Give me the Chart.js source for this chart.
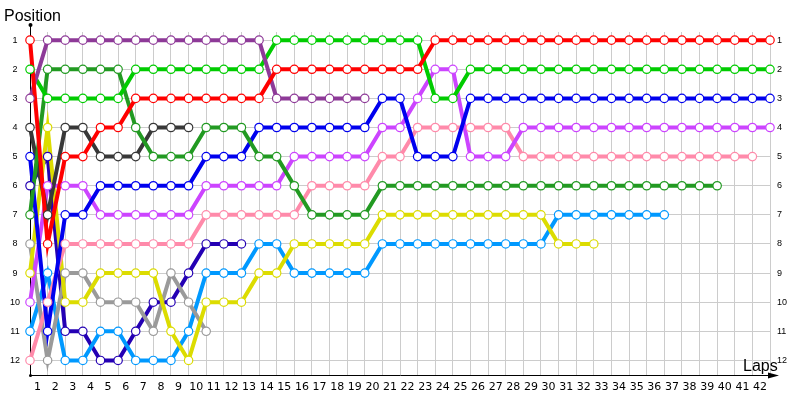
<!DOCTYPE html>
<html>
<head>
<meta charset="utf-8">
<script src="https://cdn.jsdelivr.net/npm/chart.js@4"></script>
<style>
  html, body { margin: 0; padding: 0; background: #fff; }
  #wrap { width: 800px; height: 400px; }
</style>
</head>
<body>
<div id="wrap"><canvas id="grafica"></canvas></div>
<script>
// ===== Datos =====
const vueltas = [0,1,2,3,4,5,6,7,8,9,10,11,12,13,14,15,16,17,18,19,20,21,22,23,24,25,26,27,28,29,30,31,32,33,34,35,36,37,38,39,40,41,42];
const posiciones = [1,2,3,4,5,6,7,8,9,10,11,12];

// posicion en cada vuelta (indice = vuelta, empieza en 0)
const rojo     = [1,8,5,5,4,4,3,3,3,3,3,3,3,3,2,2,2,2,2,2,2,2,2,1,1,1,1,1,1,1,1,1,1,1,1,1,1,1,1,1,1,1,1];
const morado   = [3,1,1,1,1,1,1,1,1,1,1,1,1,1,3,3,3,3,3,3];
const verde    = [2,3,3,3,3,3,2,2,2,2,2,2,2,2,1,1,1,1,1,1,1,1,1,3,3,2,2,2,2,2,2,2,2,2,2,2,2,2,2,2,2,2,2];
const verdeOsc = [7,2,2,2,2,2,4,5,5,5,4,4,4,5,5,6,7,7,7,7,6,6,6,6,6,6,6,6,6,6,6,6,6,6,6,6,6,6,6,6];
const azul     = [5,11,7,7,6,6,6,6,6,6,5,5,5,4,4,4,4,4,4,4,3,3,5,5,5,3,3,3,3,3,3,3,3,3,3,3,3,3,3,3,3,3,3];
const grisOsc  = [4,7,4,4,5,5,5,4,4,4];
const violeta  = [10,6,6,6,7,7,7,7,7,7,6,6,6,6,6,5,5,5,5,5,4,4,3,2,2,5,5,5,4,4,4,4,4,4,4,4,4,4,4,4,4,4,4];
const rosa     = [12,10,8,8,8,8,8,8,8,8,7,7,7,7,7,7,6,6,6,6,5,5,4,4,4,4,4,4,5,5,5,5,5,5,5,5,5,5,5,5,5,5];
const amarillo = [9,4,10,10,9,9,9,9,11,12,10,10,10,9,9,8,8,8,8,8,7,7,7,7,7,7,7,7,7,7,8,8,8];
const gris     = [8,12,9,9,10,10,10,11,9,10,11];
const celeste  = [11,9,12,12,11,11,12,12,12,11,9,9,9,8,8,9,9,9,9,9,8,8,8,8,8,8,8,8,8,8,7,7,7,7,7,7,7];
const indigo   = [6,5,11,11,12,12,11,10,10,9,8,8,8];

const series = [
  { nombre: "rojo",     datos: rojo,     color: "#ff0000" },
  { nombre: "morado",   datos: morado,   color: "#8e3a98" },
  { nombre: "verde",    datos: verde,    color: "#00cc00" },
  { nombre: "verdeOsc", datos: verdeOsc, color: "#229a22" },
  { nombre: "azul",     datos: azul,     color: "#0000ee" },
  { nombre: "grisOsc",  datos: grisOsc,  color: "#383838" },
  { nombre: "violeta",  datos: violeta,  color: "#cc44ff" },
  { nombre: "rosa",     datos: rosa,     color: "#ff8aaa" },
  { nombre: "amarillo", datos: amarillo, color: "#dcdc00" },
  { nombre: "gris",     datos: gris,     color: "#9a9a9a" },
  { nombre: "celeste",  datos: celeste,  color: "#0099ff" },
  { nombre: "indigo",   datos: indigo,   color: "#2400b4" }
];

function puntos(arr) {
  return arr.map((p, i) => ({ x: vueltas[i], y: p }));
}

// lineas primero, circulos encima
const lineas = series.map(s => ({
  label: s.nombre,
  data: puntos(s.datos),
  borderColor: s.color,
  borderWidth: 4,
  pointRadius: 0,
  tension: 0,
  fill: false,
  clip: false,
  order: 1
}));
const circulos = series.map(s => ({
  label: s.nombre + "-pts",
  data: puntos(s.datos),
  showLine: false,
  pointRadius: 4.2,
  pointBorderWidth: 1.2,
  pointBorderColor: s.color,
  pointBackgroundColor: "#ffffff",
  clip: false,
  order: 0
}));

// ===== Ejes y textos =====
const decoracion = {
  id: "decoracion",
  afterDraw(chart) {
    const ctx = chart.ctx;
    const a = chart.chartArea;
    ctx.save();
    ctx.strokeStyle = "#000";
    ctx.fillStyle = "#000";
    ctx.lineWidth = 1;
    ctx.beginPath();
    ctx.moveTo(a.left + 0.5, a.top);
    ctx.lineTo(a.left + 0.5, 25);
    ctx.stroke();
    ctx.beginPath();
    ctx.arc(a.left + 0.5, 25, 2, 0, Math.PI * 2);
    ctx.fill();
    ctx.beginPath();
    ctx.arc(a.left + 0.5, a.bottom + 0.5, 1.5, 0, Math.PI * 2);
    ctx.fill();
    ctx.beginPath();
    ctx.moveTo(a.right, a.bottom + 0.5);
    ctx.lineTo(776, a.bottom + 0.5);
    ctx.stroke();
    ctx.beginPath();
    ctx.moveTo(779, a.bottom + 0.5);
    ctx.lineTo(768, a.bottom - 2.5);
    ctx.lineTo(768, a.bottom + 3.5);
    ctx.closePath();
    ctx.fill();
    ctx.font = '16px "Liberation Sans"';
    ctx.textBaseline = "alphabetic";
    ctx.fillText("Position", 4, 21);
    ctx.fillText("Laps", 743, 371);
    ctx.restore();
  }
};

const ejeY = {
  type: "linear",
  reverse: true,
  min: 0.72,
  max: 12.5,
  afterBuildTicks: sc => { sc.ticks = posiciones.map(v => ({ value: v })); }
};

new Chart(document.getElementById("grafica"), {
  type: "line",
  data: { datasets: [...lineas, ...circulos] },
  plugins: [decoracion],
  options: {
    responsive: true,
    maintainAspectRatio: false,
    animation: false,
    layout: { padding: { top: 32, left: 0, right: 0, bottom: 0 } },
    plugins: { legend: { display: false }, tooltip: { enabled: false } },
    scales: {
      x: {
        type: "linear",
        min: 0,
        max: 42,
        afterBuildTicks: sc => { sc.ticks = vueltas.map(v => ({ value: v })); },
        afterFit: sc => { sc.height = 25; },
        grid: { color: "#cccccc", drawTicks: false },
        border: { color: "#000", width: 1 },
        ticks: {
          autoSkip: false,
          maxRotation: 0,
          padding: 6,
          labelOffset: -10,
          color: "#000",
          font: { family: "DejaVu Sans", size: 11 },
          callback: v => (v === 0 ? "" : String(v))
        }
      },
      y: {
        ...ejeY,
        position: "left",
        afterFit: sc => { sc.width = 30; },
        grid: { color: "#cccccc", drawTicks: false },
        border: { color: "#000", width: 1 },
        ticks: {
          autoSkip: false,
          padding: 10,
          crossAlign: "center",
          color: "#000",
          font: { family: "Liberation Sans", size: 9 }
        }
      },
      y2: {
        ...ejeY,
        position: "right",
        afterFit: sc => { sc.width = 30; },
        grid: { display: false, drawTicks: false },
        border: { display: false },
        ticks: {
          autoSkip: false,
          padding: 7,
          color: "#000",
          font: { family: "Liberation Sans", size: 9 }
        }
      }
    }
  }
});
</script>
</body>
</html>
